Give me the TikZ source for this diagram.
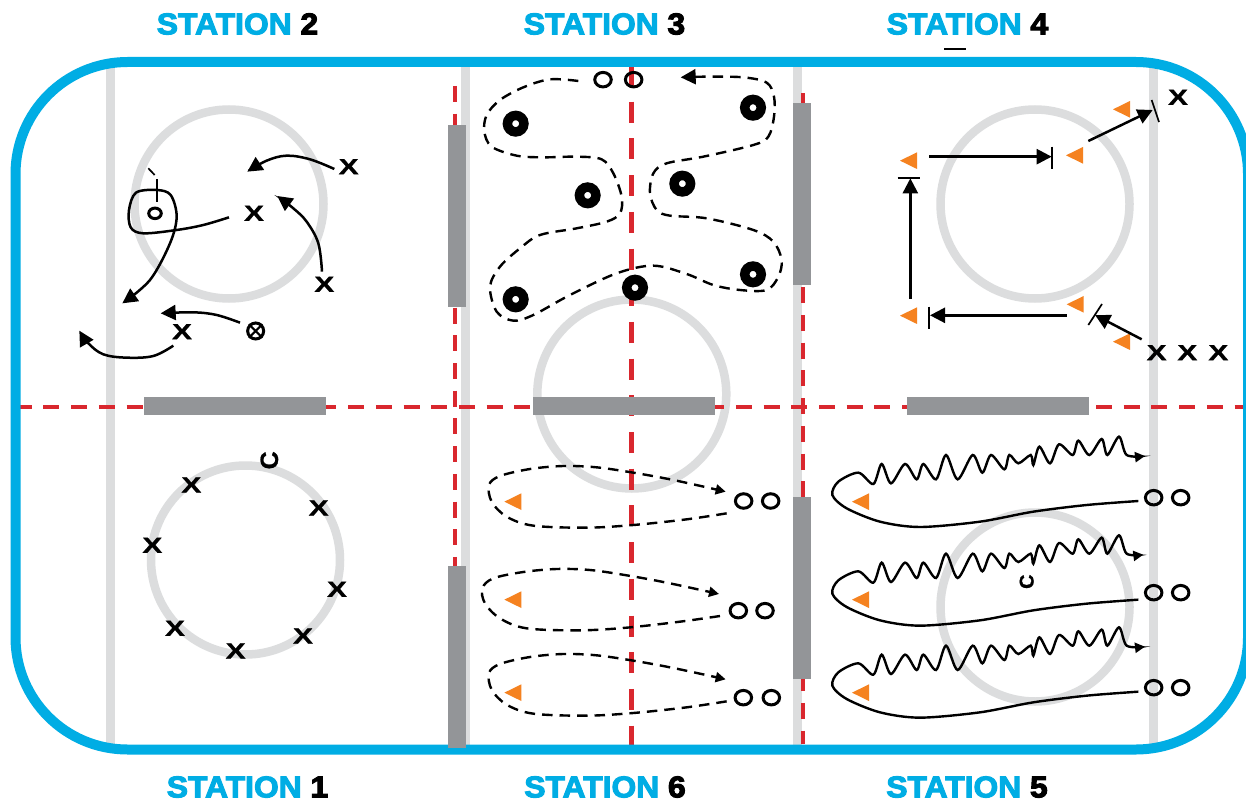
\documentclass[tikz,border=0pt]{standalone}
\usepackage{fontspec}
\usetikzlibrary{arrows.meta,shapes.geometric}
\setmainfont{Liberation Sans}
\newfontfamily\stfont[FakeBold=3.5,FakeStretch=1.06]{Liberation Sans Bold}
\newfontfamily\xfont[FakeBold=0.8]{Liberation Sans Bold}
\definecolor{rinkblue}{HTML}{00ADE4}
\definecolor{linegray}{HTML}{DCDDDE}
\definecolor{bargray}{HTML}{939598}
\definecolor{redline}{HTML}{D9272E}
\definecolor{conegold}{HTML}{F58220}
\tikzset{
  zm/.style 2 args={x=0.33333pt,y=-0.33333pt,xshift=#1pt,yshift=-#2pt},
  ringline/.style={draw=linegray,line width=8.5pt},
  gline/.style={draw=linegray,line width=8.5pt},
  barbox/.style={fill=bargray},
  redh/.style={draw=redline,line width=4pt,dash pattern=on 16pt off 11.7pt},
  redc/.style={draw=redline,line width=5pt,dash pattern=on 21pt off 15.7pt},
  arr/.style={draw=black,line width=2.5pt,-{Triangle[length=15pt,width=15pt]}},
  darr/.style={draw=black,line width=2.4pt,dash pattern=on 10.5pt off 7pt,-{Triangle[length=10pt,width=10pt]}},
  dlarge/.style={darr,-{Triangle[length=15pt,width=15pt]}},
  sarr/.style={draw=black,line width=2.4pt,-{Triangle[length=10pt,width=10pt]}},
  tickline/.style={draw=black,line width=1.7pt},
  xmark/.style={inner sep=0pt,font=\xfont\fontsize{22}{22}\selectfont,xscale=1.36},
  cmark/.style={inner sep=0pt,font=\xfont\fontsize{25}{25}\selectfont},
  oo/.style={ellipse,draw=black,line width=3pt,minimum width=16.5pt,minimum height=14.5pt,inner sep=0pt},
  puck/.style={circle,draw=black,line width=9.5pt,fill=white,minimum size=16.5pt,inner sep=0pt},
  stn/.style={inner sep=0pt,font=\stfont\fontsize{30}{30}\selectfont,text=rinkblue},
}
\newcommand{\cone}[2]{\fill[conegold] (#1,#2) -- ++(51,-25) -- ++(0,50) -- cycle;}
\begin{document}
\begin{tikzpicture}[x=1pt,y=-1pt]
\useasboundingbox (0,0) rectangle (1246,802);
\fill[white] (0,0) rectangle (1246,802);
% gray lines
\draw[gline] (110.5,62) -- (110.5,749);
\draw[gline] (465.5,62) -- (465.5,749);
\draw[gline] (797.5,62) -- (797.5,749);
\draw[gline] (1153.5,62) -- (1153.5,749);
% circles
\draw[ringline] (229,204) circle (94.5);
\draw[ringline] (631.8,394) circle (94.5);
\draw[ringline] (1035,204) circle (94.5);
\draw[ringline] (245.5,560) circle (94.5);
\draw[ringline] (1035,607) circle (94.5);
% red lines
\draw[redh,dash phase=4.3pt] (20,406.5) -- (1246,406.5);
\draw[redh] (455,86) -- (455,744);
\draw[redh] (803,93.4) -- (803,744);
\draw[redc,dash phase=2pt] (631.7,67) -- (631.7,746);
% rink
\draw[draw=rinkblue,line width=10pt,rounded corners=112pt] (15.5,62) rectangle (1248,749.5);
% bars
\fill[barbox] (448,125) rectangle (466,307);
\fill[barbox] (448,566) rectangle (466,748);
\fill[barbox] (793,103) rectangle (811,285);
\fill[barbox] (793,497) rectangle (811,679);
\fill[barbox] (144,397) rectangle (326,415);
\fill[barbox] (533,397) rectangle (715,415);
\fill[barbox] (907,397) rectangle (1089,415);
% titles
\node[stn] (t2) at (237.5,24) {STATION \textcolor{black}{2}};
\node[stn] (t3) at (604.5,24) {STATION \textcolor{black}{3}};
\node[stn] (t4) at (967.5,24) {STATION \textcolor{black}{4}};
\node[stn] (t1) at (247.5,787) {STATION \textcolor{black}{1}};
\node[stn] (t6) at (605,787) {STATION \textcolor{black}{6}};
\node[stn] (t5) at (967,787) {STATION \textcolor{black}{5}};
\draw[tickline] (944,49.3) -- (966,49.3);
% ---------- Station 2
\begin{scope}[zm={0}{0}]
\node[xmark] (s2a) at (1046,500) {X};
\node[xmark] (s2b) at (762,640) {X};
\node[xmark] (s2c) at (973,853) {X};
\node[xmark] (s2d) at (546,995) {X};
\node[oo,minimum width=12.5pt,minimum height=10.5pt] (s2o) at (465,640) {};
\node[circle,draw=black,line width=3pt,minimum size=16pt,inner sep=0pt] (s2p) at (767,993) {};
\draw[black,line width=2.2pt] (s2p.north west) -- (s2p.south east) (s2p.north east) -- (s2p.south west);
\draw[tickline] (470,538) -- (470,605);
\draw[tickline] (445,505) -- (464,525);
\coordinate (a1s) at (1003,507); \coordinate (a1e) at (742,515);
\coordinate (a2s) at (966,815); \coordinate (a2e) at (832,588);
\coordinate (a3s) at (687,652); \coordinate (a3e) at (367,910);
\coordinate (a4s) at (720,968); \coordinate (a4e) at (482,940);
\coordinate (a5s) at (520,1037); \coordinate (a5e) at (238,992);
\draw[arr] plot[smooth,tension=.6] coordinates {(a1s) (930,478) (860,467) (800,482) (a1e)};
\draw[arr] plot[smooth,tension=.6] coordinates {(a2s) (955,730) (920,665) (880,625) (a2e)};
\draw[arr] plot[smooth,tension=.55] coordinates {(a3s) (610,675) (530,690) (430,700) (392,682) (387,630) (408,578) (470,570) (512,585) (530,650) (510,730) (450,840) (a3e)};
\draw[arr] plot[smooth,tension=.6] coordinates {(a4s) (650,945) (580,937) (a4e)};
\draw[arr] plot[smooth,tension=.6] coordinates {(a5s) (460,1068) (380,1073) (310,1063) (265,1030) (a5e)};
\end{scope}
% ---------- Station 3
\begin{scope}[zm={420}{0}]
\foreach \n/\a/\b in {1/287/371,2/999/323,3/503/586,4/787/551,5/287/898,6/999/823,7/645/863}
  \node[puck] (p\n) at (\a,\b) {};
\node[oo] (s3a) at (549,239) {};
\node[oo] (s3b) at (641,239) {};
\coordinate (d3s) at (475,243); \coordinate (d3e) at (782,232);
\draw[dlarge] plot[smooth,tension=.55] coordinates {(d3s) (390,238) (310,262) (240,300) (200,345) (193,395) (215,440) (290,467) (370,472) (470,470) (545,478) (580,520) (605,590) (600,640) (560,665) (470,685) (360,705) (300,745) (240,800) (210,860) (230,935) (280,962) (340,945) (450,885) (590,820) (700,797) (800,822) (880,855) (960,870) (1040,870) (1075,830) (1085,780) (1060,725) (1000,690) (860,655) (750,647) (710,630) (690,580) (700,520) (740,490) (850,470) (1000,435) (1045,410) (1062,350) (1062,290) (1040,248) (970,232) (860,230) (d3e)};
\end{scope}
% ---------- Station 4
\begin{scope}[zm={830}{0}]
\cone{849}{328}\cone{708}{466}\cone{210}{482}\cone{210}{947}\cone{710}{913}\cone{849}{1025}
\node[xmark] (s4a) at (1044,292) {X};
\node[xmark] (s4b) at (980,1058) {X};
\node[xmark] (s4c) at (1072,1058) {X};
\node[xmark] (s4d) at (1165,1058) {X};
\coordinate (h1s) at (298,470); \coordinate (h1e) at (665,470);
\coordinate (vs) at (241,897); \coordinate (ve) at (241,535);
\coordinate (h2s) at (710,946); \coordinate (h2e) at (300,946);
\coordinate (d1s) at (775,423); \coordinate (d1e) at (968,330);
\coordinate (d2s) at (935,1018); \coordinate (d2e) at (795,945);
\draw[arr] (h1s) -- (h1e);
\draw[arr] (vs) -- (ve);
\draw[arr] (h2s) -- (h2e);
\draw[arr] (d1s) -- (d1e);
\draw[arr] (d2s) -- (d2e);
\draw[tickline] (667,440) -- (667,506);
\draw[tickline] (203,533) -- (270,533);
\draw[tickline] (298,920) -- (298,986);
\draw[tickline] (965,300) -- (987,366);
\draw[tickline] (775,975) -- (816,912);
\end{scope}
% ---------- Station 1
\begin{scope}[zm={0}{400}]
\foreach \n/\a/\b in {1/574/255,2/956/324,3/457/436,4/1011/568,5/525/685,6/909/708,7/707/753}
  \node[xmark] (s1x\n) at (\a,\b) {X};
\node[cmark,rotate=90] (s1c) at (808,181) {C};
\end{scope}
% ---------- Station 6
\begin{scope}[zm={420}{400}]
\cone{253}{305}\cone{253}{599}\cone{253}{878}
\foreach \n/\a/\b/\c in {1/971/303/1052,2/955/632/1035,3/970/893/1054}{
  \node[oo] (s6a\n) at (\a,\b) {};
  \node[oo] (s6b\n) at (\c,\b) {};
}
\coordinate (l1s) at (920,340); \coordinate (l1e) at (917,275);
\coordinate (l2s) at (900,648); \coordinate (l2e) at (897,582);
\coordinate (l3s) at (920,904); \coordinate (l3e) at (917,838);
\draw[darr] plot[smooth,tension=.55] coordinates {(l1s) (800,358) (640,375) (500,383) (340,377) (260,350) (215,305) (207,255) (240,228) (330,207) (430,198) (530,202) (640,218) (760,240) (l1e)};
\draw[darr] plot[smooth,tension=.55] coordinates {(l2s) (780,665) (620,683) (480,691) (320,685) (240,655) (195,610) (187,565) (220,535) (310,516) (410,507) (510,510) (620,526) (740,548) (l2e)};
\draw[darr] plot[smooth,tension=.55] coordinates {(l3s) (800,922) (640,939) (500,947) (340,941) (260,914) (215,869) (207,819) (240,792) (330,771) (430,762) (530,766) (640,782) (760,804) (l3e)};
\end{scope}
% ---------- Station 5
\begin{scope}[zm={820}{400}]
\cone{96}{305}\cone{96}{599}\cone{96}{878}
\foreach \n/\b in {1/293,2/578,3/863}{
  \node[oo] (s5a\n) at (1001,\b) {};
  \node[oo] (s5b\n) at (1082,\b) {};
}
\node[cmark,rotate=90,font=\xfont\fontsize{20}{20}\selectfont] (s5c) at (620,545) {C};
\foreach \n/\d/\t in {1/0/975,2/296/970,3/572/975}{
\begin{scope}[shift={(0,\d)}]
\coordinate (w\n s) at (955,303); \coordinate (w\n e) at (\t,168);
\draw[sarr] plot[smooth,tension=.5] coordinates {(w\n s) (800,315) (640,335) (480,365) (300,381) (180,365) (80,325) (37,285) (55,245) (115,218) (160,252) (185,192) (213,250) (255,192) (290,238) (310,192) (348,238) (378,165) (413,238) (458,165) (487,218) (513,165) (553,208) (568,165) (595,190) (632,165) (640,195) (658,140) (690,190) (717,133) (758,165) (775,122) (808,165) (845,117) (862,165) (897,110) (920,165) (w\n e)};
\end{scope}}
\end{scope}
\end{tikzpicture}
\end{document}
